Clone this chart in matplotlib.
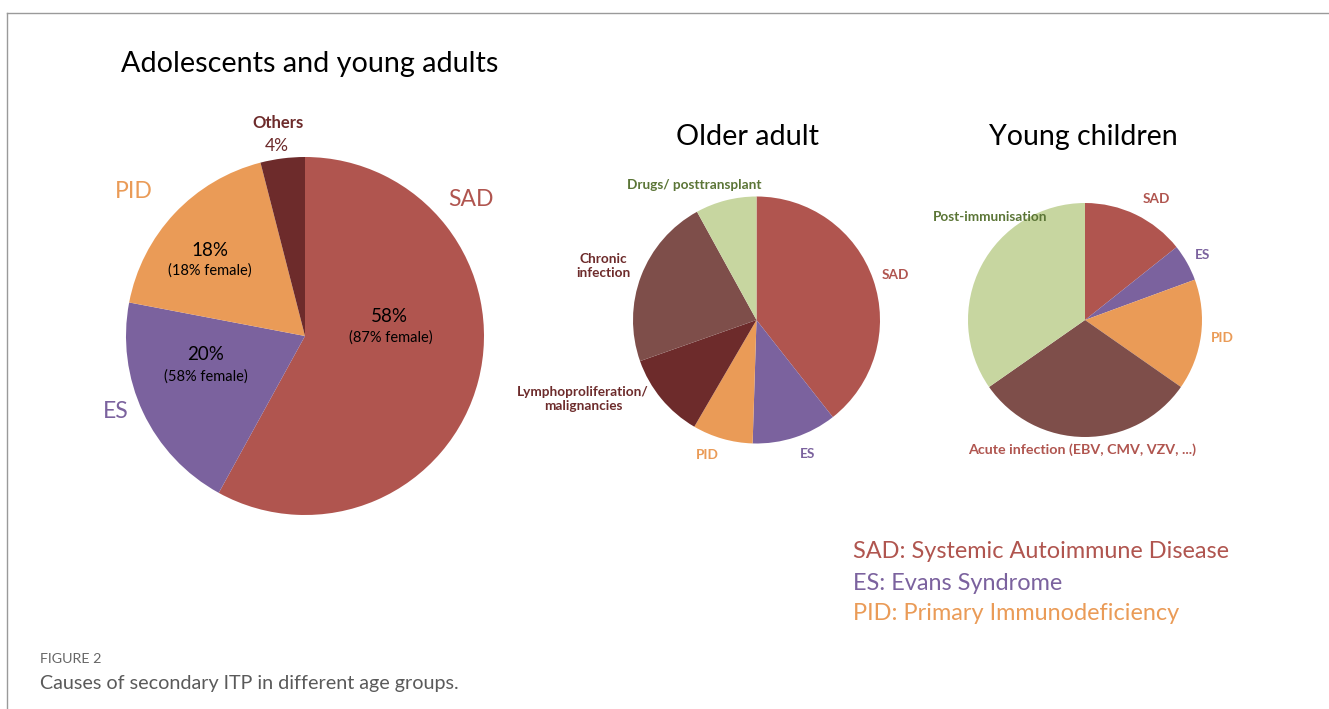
import matplotlib.pyplot as plt

W, H = 1329, 709

# colours of the categories
c_sad = '#B0554F'
c_es = '#7B629E'
c_pid = '#EA9B57'
c_dark = '#6D2B2B'
c_brown = '#7E4E4A'
c_green = '#C7D6A0'
c_green_txt = '#5B7536'

# Adolescents and young adults
ay_labels = ['SAD', 'ES', 'PID', 'Others']
ay_values = [58, 20, 18, 4]
ay_female = [87, 58, 18, None]
ay_colors = [c_sad, c_es, c_pid, c_dark]

# Older adult
oa_labels = ['SAD', 'ES', 'PID', 'Lymphoproliferation/\nmalignancies',
             'Chronic\ninfection', 'Drugs/ posttransplant']
oa_values = [39.4, 11.1, 7.9, 11.2, 22.4, 8.0]
oa_colors = [c_sad, c_es, c_pid, c_dark, c_brown, c_green]

# Young children
yc_labels = ['SAD', 'ES', 'PID', 'Acute infection (EBV, CMV, VZV, ...)',
             'Post-immunisation']
yc_values = [14.3, 5.1, 15.3, 30.6, 34.7]
yc_colors = [c_sad, c_es, c_pid, c_brown, c_green]

font = ['Lato', 'DejaVu Sans']
plt.rcParams['font.family'] = font

fig = plt.figure(figsize=(W / 100, H / 100), dpi=100)


def px(x, y):
    return x / W, 1 - y / H


def pie_axes(cx, cy, r, values, colors):
    ax = fig.add_axes([(cx - r) / W, 1 - (cy + r) / H, 2 * r / W, 2 * r / H])
    ax.pie(values, colors=colors, startangle=90, counterclock=False,
           wedgeprops=dict(linewidth=0))
    ax.set_xlim(-1, 1)
    ax.set_ylim(-1, 1)
    ax.set_aspect('equal')
    ax.axis('off')
    return ax


def txt(x, y, s, size, color='black', weight='normal', ha='center', va='center'):
    fig.text(*px(x, y), s, fontsize=size, color=color, fontweight=weight,
             ha=ha, va=va, linespacing=1.2)


pie_axes(305, 336, 179, ay_values, ay_colors)
pie_axes(756.5, 320, 123.5, oa_values, oa_colors)
pie_axes(1085, 320, 117, yc_values, yc_colors)

# frame lines
fig.add_artist(plt.Line2D([7 / W, 1], [1 - 13 / H, 1 - 13 / H], color='#9a9a9a', lw=1))
fig.add_artist(plt.Line2D([7 / W, 7 / W], [0, 1 - 13 / H], color='#9a9a9a', lw=1))

# titles
txt(121, 64, 'Adolescents and young adults', 20.7, ha='left')
txt(748, 137, 'Older adult', 20.8)
txt(1083, 137, 'Young children', 20.5)

# adolescents labels
txt(278, 123, 'Others', 12, c_dark, 'bold')
txt(277, 146, f'{ay_values[3]}%', 12.5, c_dark)
txt(134, 191, ay_labels[2], 16.5, c_pid)
txt(471, 199, ay_labels[0], 16.5, c_sad)
txt(116, 412, ay_labels[1], 16.5, c_es)
txt(210, 250, f'{ay_values[2]}%', 13.5)
txt(210, 271, f'({ay_female[2]}% female)', 10.5)
txt(389, 316, f'{ay_values[0]}%', 13.5)
txt(391, 338, f'({ay_female[0]}% female)', 10.5)
txt(206, 355, f'{ay_values[1]}%', 13.5)
txt(206, 377, f'({ay_female[1]}% female)', 10.5)

# older adult labels
txt(694, 185, oa_labels[5], 9.8, c_green_txt, 'bold')
txt(603, 266, oa_labels[4], 9.8, c_dark, 'bold')
txt(895, 275, oa_labels[0], 9.8, c_sad, 'bold')
txt(583, 399, oa_labels[3], 9.8, c_dark, 'bold')
txt(707, 455, oa_labels[2], 9.8, c_pid, 'bold')
txt(808, 454, oa_labels[1], 9.8, c_es, 'bold')

# young children labels
txt(1156, 199, yc_labels[0], 9.8, c_sad, 'bold')
txt(990, 217, yc_labels[4], 9.8, c_green_txt, 'bold')
txt(1203, 255, yc_labels[1], 9.8, c_es, 'bold')
txt(1222, 338, yc_labels[2], 9.8, c_pid, 'bold')
txt(1082, 450, yc_labels[3], 10.3, c_sad, 'bold')

# key
txt(853, 552, 'SAD: Systemic Autoimmune Disease', 16.9, c_sad, ha='left')
txt(853, 583, 'ES: Evans Syndrome', 16.9, c_es, ha='left')
txt(853, 614, 'PID: Primary Immunodeficiency', 16.9, c_pid, ha='left')

# caption
txt(40, 659, 'FIGURE 2', 10.3, '#666666', ha='left')
txt(40, 684, 'Causes of secondary ITP in different age groups.', 14.2, '#5a5a5a',
    ha='left')

fig.savefig('out.png', dpi=100)
